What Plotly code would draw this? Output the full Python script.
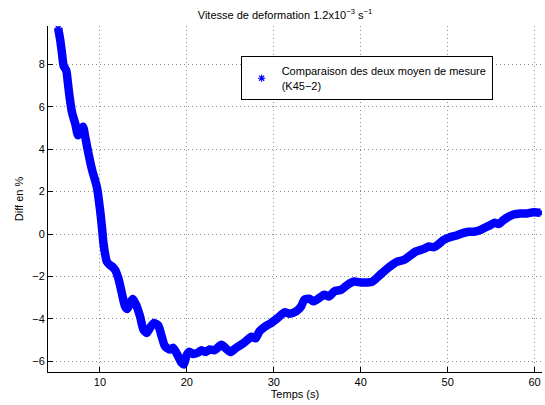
import plotly.graph_objects as go

temps = [5.2, 5.45, 5.65, 5.83, 6.14, 6.29, 6.52, 6.79, 7.17, 7.48, 7.74, 8.05, 8.3, 8.58,
         9.08, 9.66, 10.03, 10.23, 10.41, 10.6, 10.8, 11.18, 11.37, 11.75, 12.13, 12.52,
         12.9, 13.16, 13.47, 13.78, 14.16, 14.62, 15.0, 15.38, 15.76, 16.22, 16.71, 17.1,
         17.48, 18.05, 18.43, 18.89, 19.39, 19.66, 19.97, 20.27, 20.72, 21.3, 21.68, 22.17,
         22.63, 23.2, 23.97, 24.55, 25.0, 25.69, 26.45, 27.02, 27.41, 27.9, 28.36, 29.05,
         29.7, 30.46, 31.23, 31.8, 32.57, 33.14, 33.52, 34.09, 34.55, 35.24, 35.81, 36.38,
         36.95, 37.72, 38.48, 39.24, 40.01, 40.77, 41.34, 42.1, 42.87, 43.63, 44.2, 44.97,
         45.54, 46.31, 47.26, 47.83, 48.41, 48.98, 49.55, 50.13, 50.89, 51.65, 52.42, 52.99,
         53.76, 54.33, 54.9, 55.39, 55.85, 56.43, 57.0, 57.57, 58.34, 59.1, 59.87, 60.63]

diff_pct = [9.69, 9.1, 8.47, 7.92, 7.69, 7.22, 6.44, 5.73, 5.19, 4.65, 4.88, 5.06, 4.6, 4.0,
            3.05, 2.2, 1.1, 0.34, -0.44, -0.95, -1.3, -1.47, -1.52, -1.69, -2.1, -2.78,
            -3.41, -3.53, -3.25, -3.06, -3.33, -3.88, -4.5, -4.66, -4.42, -4.19, -4.31, -4.81,
            -5.28, -5.44, -5.36, -5.67, -6.06, -6.14, -5.72, -5.55, -5.65, -5.58, -5.47, -5.56,
            -5.44, -5.47, -5.22, -5.41, -5.56, -5.36, -5.16, -4.97, -4.84, -4.91, -4.58, -4.34,
            -4.19, -3.95, -3.69, -3.75, -3.64, -3.41, -3.09, -3.05, -3.17, -3.01, -2.86, -2.94,
            -2.7, -2.63, -2.39, -2.24, -2.28, -2.28, -2.24, -1.97, -1.69, -1.45, -1.3, -1.22,
            -1.06, -0.83, -0.7, -0.59, -0.62, -0.47, -0.28, -0.17, -0.08, 0.03, 0.11, 0.11,
            0.19, 0.31, 0.42, 0.53, 0.47, 0.66, 0.81, 0.92, 0.97, 0.97, 1.02, 1.0]

x_ticks = [10, 20, 30, 40, 50, 60]
y_ticks = [-6, -4, -2, 0, 2, 4, 6, 8]

legend_label = "Comparaison des deux moyen de mesure<br>(K45\u22122)"
title_text = "Vitesse de deformation 1.2x10<sup>\u22123</sup> s<sup>\u22121</sup>"

BLUE = "#0000ff"
FONT = "Liberation Sans, Arial, sans-serif"

fig = go.Figure()
fig.add_trace(go.Scatter(x=temps, y=diff_pct, mode="lines",
                         line=dict(color=BLUE, width=8.5, shape="spline", smoothing=0.6),
                         showlegend=False, hoverinfo="skip"))
fig.add_trace(go.Scatter(x=temps, y=diff_pct, mode="markers", name=legend_label,
                         marker=dict(symbol="asterisk", size=6, color=BLUE,
                                     line=dict(color=BLUE, width=1.2))))

axis_common = dict(showline=True, linecolor="black", linewidth=1, mirror=False,
                   ticks="inside", ticklen=5, tickcolor="black", tickwidth=1,
                   showgrid=True, gridcolor="#8c8c8c", gridwidth=1, griddash="1px,3px",
                   zeroline=False, tickfont=dict(family=FONT, size=11, color="black"))

fig.update_xaxes(range=[4.03, 60.85], tickvals=x_ticks,
                 title=dict(text="Temps (s)", font=dict(family=FONT, size=11, color="black"),
                            standoff=2),
                 **axis_common)
fig.update_yaxes(range=[-6.5, 9.8], tickvals=y_ticks,
                 title=dict(text="Diff en %", font=dict(family=FONT, size=11, color="black"),
                            standoff=6),
                 **axis_common)

fig.update_layout(
    width=545, height=405,
    margin=dict(l=48, r=3, t=26, b=33),
    paper_bgcolor="white", plot_bgcolor="white",
    font=dict(family=FONT, size=11, color="black"),
    title=dict(text=title_text, x=0.523, xanchor="center", y=0.963, yanchor="middle",
               font=dict(family=FONT, size=11, color="black")),
    legend=dict(x=0.39, y=0.912, xanchor="left", yanchor="top",
                bgcolor="white", bordercolor="black", borderwidth=1,
                font=dict(family=FONT, size=11, color="black")),
)

fig.write_html("out.html", config={"displayModeBar": False},
               post_script="document.body.style.margin='0px';")
